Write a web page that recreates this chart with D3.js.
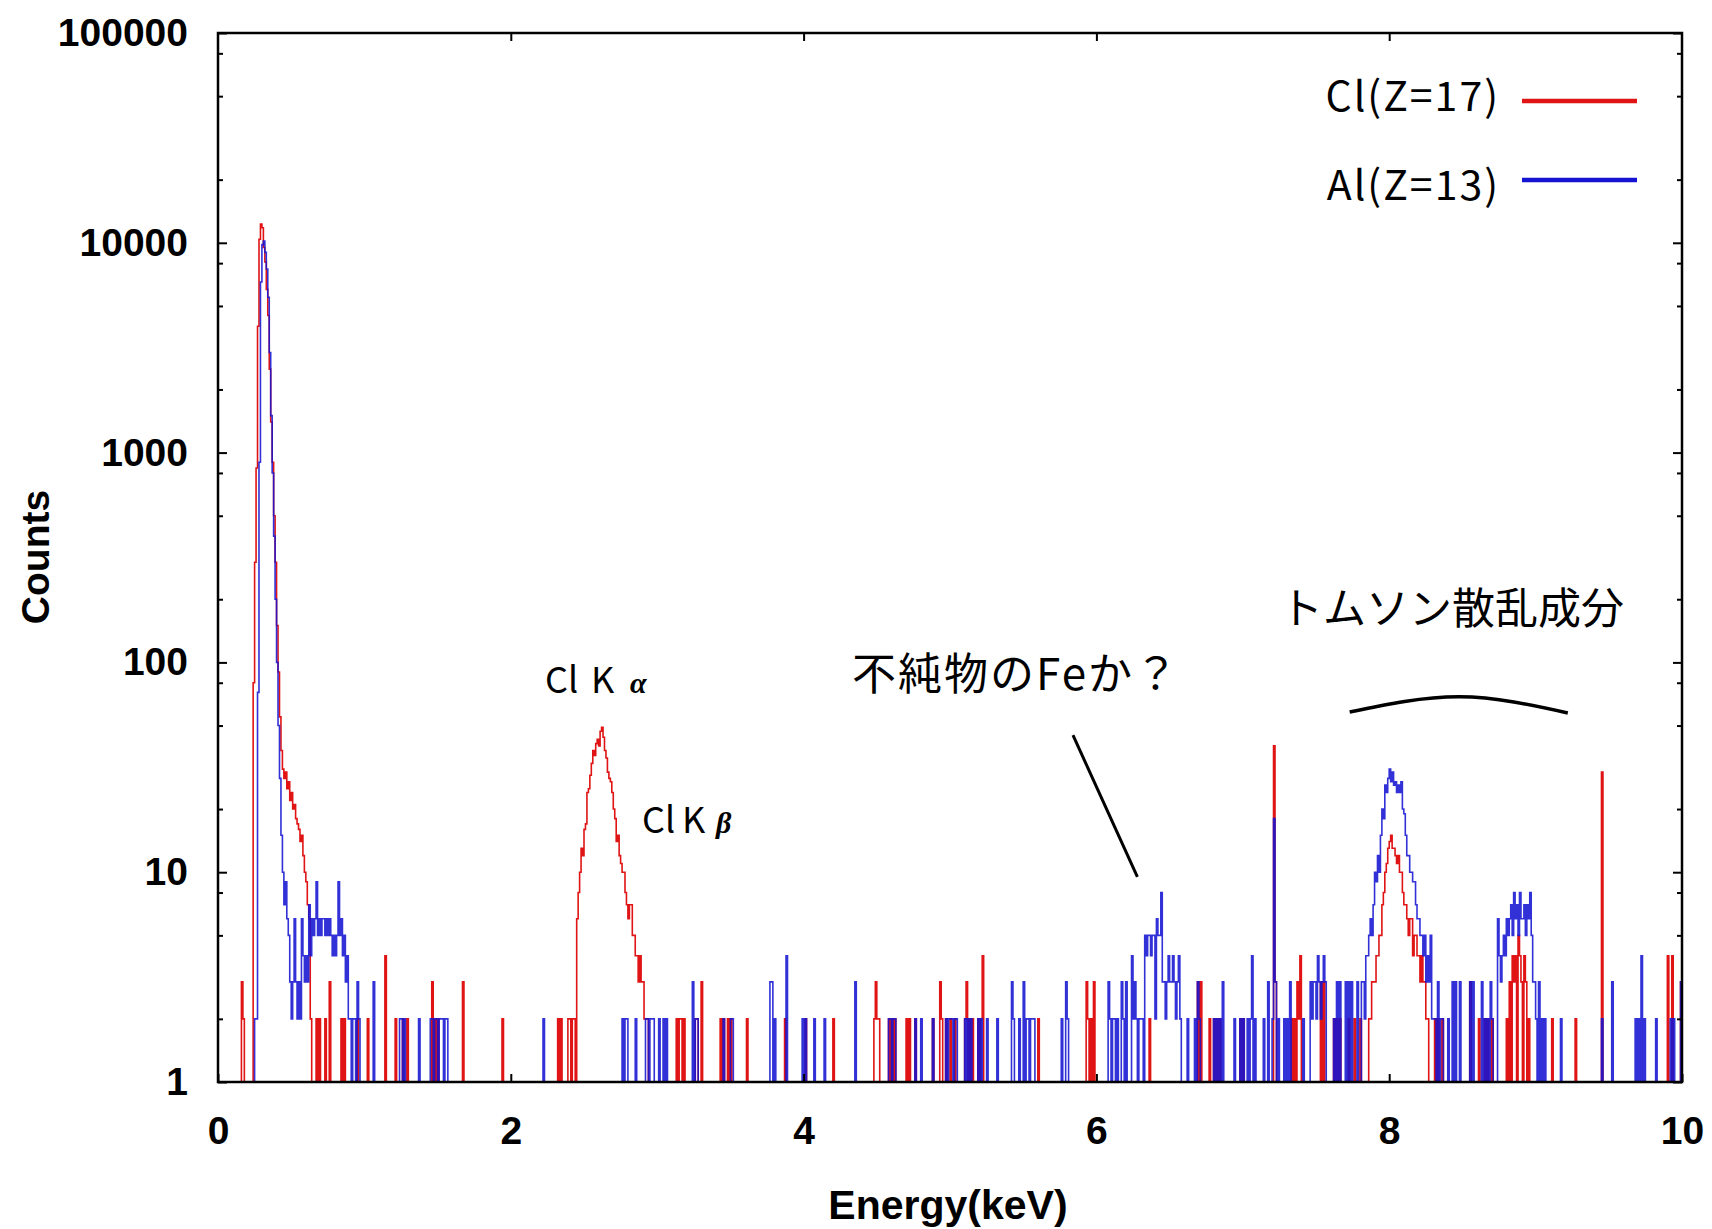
<!DOCTYPE html>
<html>
<head>
<meta charset="utf-8">
<script src="https://cdn.jsdelivr.net/npm/d3@7"></script>
<style>
body { margin: 0; background: #fff; }
.jp { font-family: "Noto Sans CJK JP", sans-serif; }
</style>
</head>
<body>
<svg id="chart" width="1712" height="1229"></svg>
<script>
// channel width of the spectra (keV)
var step = 0.01;

// Cl(Z=17): contiguous runs [start keV, counts...]
var clRuns = [
  [0.16, [3, 2]],
  [0.24, [80, 300, 845, 4000, 10400, 12300, 11800, 9500, 8100, 6000, 4500, 2500, 1400, 900, 500, 300, 150, 90, 55, 38,
          31, 28, 30, 25, 27, 22, 24, 20, 21, 18, 17, 16, 14, 15, 12, 10, 9, 7, 6, 2]],
  [2.39, [2, 2, 1, 2, 2, 1, 6, 8, 10, 13, 12, 16, 17, 24, 25, 29, 33, 38, 36, 41, 43, 40, 47, 49, 44, 38, 35, 30, 28, 27,
          24, 20, 18, 14, 15, 12, 11, 10, 10, 8, 7, 6, 7, 7, 5, 5, 4, 4, 3, 4, 3, 3, 2, 2, 2]],
  [3.13, [2, 1, 2, 2, 1, 2]],
  [7.86, [2, 2, 3, 3, 3, 4, 4, 5, 5, 7, 8, 10, 11, 13, 14, 15, 13, 13, 12, 11, 12, 10, 10, 8, 7, 7, 6, 5, 6, 6,
          4, 5, 5, 4, 4, 3, 4, 3, 3, 2, 2]],
  [8.80, [2, 1, 3, 1, 4, 3, 4, 1, 5, 4, 3, 1, 4, 3, 1, 2]]
];
// Cl(Z=17): single channels [keV, counts]
var clSpikes = [
  [0.67, 2], [0.69, 2], [0.73, 2], [0.76, 3], [0.84, 2], [0.86, 2], [0.95, 2], [1.02, 2], [1.14, 4], [1.21, 2],
  [1.26, 2], [1.29, 2], [1.46, 3], [1.48, 2], [1.50, 2], [1.67, 3], [1.94, 2], [2.32, 2], [2.34, 2],
  [3.26, 2], [3.27, 2], [3.30, 3], [3.43, 2], [3.45, 2], [3.48, 2], [3.50, 2], [3.61, 2], [3.87, 2], [4.01, 2],
  [4.20, 2], [4.48, 2], [4.49, 3], [4.50, 2], [4.51, 2], [4.58, 2], [4.60, 2], [4.62, 2], [4.70, 2], [4.72, 2],
  [4.76, 2], [4.88, 2], [4.93, 3], [4.94, 2], [4.97, 2], [5.00, 2], [5.03, 2], [5.10, 2], [5.11, 3], [5.13, 2],
  [5.15, 2], [5.19, 2], [5.21, 2], [5.22, 4], [5.60, 2], [5.93, 3], [5.94, 2], [5.96, 2], [5.98, 3], [6.36, 2],
  [6.69, 3], [6.71, 3], [6.77, 2], [6.80, 2], [6.82, 2], [6.84, 2], [6.98, 2], [7.00, 2], [7.21, 40], [7.22, 3],
  [7.33, 2], [7.35, 2], [7.37, 3], [7.38, 2], [7.39, 4], [7.53, 3], [7.55, 3], [7.62, 2], [7.64, 2], [7.66, 2],
  [7.72, 2], [7.76, 2], [7.80, 2], [8.31, 2], [8.33, 2], [8.36, 2], [8.55, 3], [8.61, 2], [8.65, 2], [8.67, 2],
  [8.70, 2], [9.11, 2], [9.27, 2], [9.45, 30], [9.90, 4], [9.93, 4], [9.99, 3]
];

// Al(Z=13): contiguous runs [start keV, counts...]
var alRuns = [
  [0.25, [2, 2, 72, 900, 6500, 9800, 10200, 9000, 7500, 5500, 3000, 1500, 800, 400, 200, 100, 50, 28, 15, 10,
          7, 9, 6, 5, 3, 2, 3, 6, 3, 2, 3, 2, 6, 4, 3, 4, 3, 7, 4, 6, 5, 6, 9, 5, 6, 5, 6, 6, 5, 6,
          5, 6, 5, 4, 5, 4, 5, 9, 5, 6, 4, 5, 3, 4, 2, 2, 1, 2, 2, 1, 3, 2]],
  [1.45, [2, 2, 1, 2, 2, 1, 2, 2, 2, 1, 2, 2]],
  [2.76, [2, 1, 2, 2]],
  [2.92, [2, 2, 1, 2, 2, 2]],
  [6.24, [4, 2, 3, 2, 1, 2, 2, 2, 1, 5, 4, 5, 5, 4, 5, 5, 2, 6, 5, 5, 8, 3, 3, 2, 3, 4, 3, 3, 4, 3,
          2, 3, 4, 2]],
  [7.46, [3, 2, 3, 3, 2, 4, 3, 2, 3, 4, 3]],
  [7.81, [3, 3, 2, 4, 4, 5, 6, 5, 7, 10, 9, 12, 10, 15, 20, 18, 26, 24, 28, 31, 27, 30, 26, 27, 24, 26, 24, 27, 20, 19,
          15, 12, 12, 10, 10, 9, 9, 7, 6, 6, 5, 5, 4, 5, 3, 4, 3, 5, 2, 2]],
  [8.74, [6, 4, 3, 4, 5, 4, 6, 5, 6, 7, 5, 8, 6, 7, 5, 8, 6, 6, 7, 5, 7, 6, 8, 5, 3, 3]]
];
// Al(Z=13): single channels [keV, counts]
var alSpikes = [
  [1.06, 3], [1.24, 2], [1.25, 2], [1.27, 2], [1.37, 2], [2.22, 2], [2.85, 2], [3.01, 2], [3.04, 2], [3.06, 2],
  [3.24, 3], [3.26, 2], [3.27, 2], [3.45, 2], [3.50, 2], [3.51, 2], [3.77, 3], [3.78, 3], [3.80, 2], [3.88, 4],
  [3.99, 2], [4.01, 2], [4.07, 2], [4.14, 2], [4.35, 3], [4.58, 2], [4.59, 2], [4.61, 2], [4.62, 2], [4.76, 2],
  [4.80, 2], [4.88, 2], [4.97, 2], [4.99, 2], [5.00, 2], [5.01, 2], [5.03, 2], [5.04, 2], [5.10, 2], [5.12, 2],
  [5.14, 2], [5.19, 2], [5.21, 2], [5.25, 2], [5.32, 2], [5.42, 3], [5.43, 2], [5.47, 2], [5.50, 3], [5.52, 2],
  [5.53, 2], [5.55, 2], [5.56, 2], [5.57, 2], [5.76, 2], [5.79, 3], [5.80, 2], [6.08, 3], [6.09, 2], [6.11, 2],
  [6.12, 2], [6.14, 2], [6.17, 3], [6.18, 2], [6.20, 3], [6.62, 2], [6.67, 2], [6.69, 3], [6.70, 2], [6.80, 2],
  [6.82, 2], [6.84, 2], [6.86, 3], [6.94, 2], [6.98, 2], [7.00, 2], [7.03, 2], [7.05, 2], [7.06, 4], [7.08, 2],
  [7.14, 2], [7.17, 3], [7.20, 2], [7.21, 18], [7.22, 3], [7.24, 2], [7.28, 2], [7.30, 2], [7.32, 3], [7.41, 2],
  [7.62, 2], [7.64, 3], [7.66, 3], [7.70, 3], [7.72, 3], [7.74, 3], [7.78, 3], [8.31, 2], [8.33, 3], [8.35, 2],
  [8.36, 2], [8.40, 2], [8.43, 3], [8.45, 3], [8.48, 3], [8.55, 3], [8.57, 3], [8.63, 3], [8.65, 2], [8.67, 2],
  [8.69, 3], [8.70, 2], [9.00, 2], [9.02, 3], [9.04, 2], [9.06, 2], [9.17, 2], [9.45, 2], [9.52, 3], [9.68, 2],
  [9.70, 2], [9.72, 4], [9.74, 2], [9.82, 2], [9.92, 2], [9.94, 2], [9.99, 3]
];

var seriesNames = ["Cl(Z=17)", "Al(Z=13)"];
var seriesColors = ["#e01414", "#1414d2"];
var xTicks = [0, 2, 4, 6, 8, 10];
var yTicks = [1, 10, 100, 1000, 10000, 100000];
var yMinorTicks = [2, 5, 8, 20, 50, 80, 200, 500, 800, 2000, 5000, 8000, 20000, 50000, 80000];

// annotation anchors in data units [keV, counts]
var fePointer = [[5.84, 45], [6.28, 9.5]];
var thomsonArc = [[7.73, 58], [8.48, 68.5], [9.22, 57.4]];

var svg = d3.select("#chart");

var x = d3.scaleLinear().domain([0, 10]).range([218, 1682]);
var y = d3.scaleLog().domain([1, 100000]).range([1082, 33]);

function toChannels(runs, spikes) {
  var n = Math.round(10 / step);
  var c = new Array(n).fill(1);
  runs.forEach(function (r) {
    var i0 = Math.round(r[0] / step);
    r[1].forEach(function (v, i) { c[i0 + i] = v; });
  });
  spikes.forEach(function (s) {
    var i = Math.round(s[0] / step);
    c[i] = Math.max(c[i], s[1]);
  });
  var pts = c.map(function (v, i) { return {e: i * step, c: v}; });
  pts.push({e: 10, c: 1});
  return pts;
}

var series = [toChannels(clRuns, clSpikes), toChannels(alRuns, alSpikes)];

var line = d3.line()
    .x(d => x(d.e))
    .y(d => y(Math.max(1, d.c)))
    .curve(d3.curveStepAfter);

svg.append("defs").append("clipPath").attr("id", "plot")
  .append("rect").attr("x", 218).attr("y", 33).attr("width", 1464).attr("height", 1049);

var plot = svg.append("g").attr("clip-path", "url(#plot)");
series.forEach(function (s, i) {
  plot.append("path")
      .attr("d", line(s))
      .attr("fill", "none")
      .attr("stroke", seriesColors[i])
      .attr("stroke-opacity", i == 1 ? 0.88 : 1)
      .attr("stroke-width", 1.6);
});

// axes
function styleAxis(g) {
  g.select(".domain").remove();
  g.selectAll(".tick line").attr("stroke", "#000").attr("stroke-width", 2);
  g.selectAll(".tick text").attr("fill", "#000");
  g.attr("font-family", "'Liberation Sans', Arial, sans-serif")
   .attr("font-weight", "bold").attr("font-size", 39);
}

svg.append("g").attr("transform", "translate(0,1082)")
  .call(d3.axisBottom(x).tickValues(xTicks).tickSize(-8).tickPadding(34).tickFormat(d3.format("d")))
  .call(styleAxis);
svg.append("g").attr("transform", "translate(0,33)")
  .call(d3.axisTop(x).tickValues(xTicks.slice(1, -1)).tickSize(-8).tickFormat(""))
  .call(styleAxis);
svg.append("g").attr("transform", "translate(218,0)")
  .call(d3.axisLeft(y).tickValues(yTicks).tickSize(-9).tickPadding(30).tickFormat(d3.format("d")))
  .call(styleAxis);
svg.append("g").attr("transform", "translate(218,0)")
  .call(d3.axisLeft(y).tickValues(yMinorTicks).tickSize(-5).tickFormat(""))
  .call(styleAxis);
svg.append("g").attr("transform", "translate(1682,0)")
  .call(d3.axisRight(y).tickValues(yTicks).tickSize(-9).tickFormat(""))
  .call(styleAxis);
svg.append("g").attr("transform", "translate(1682,0)")
  .call(d3.axisRight(y).tickValues(yMinorTicks).tickSize(-5).tickFormat(""))
  .call(styleAxis);

svg.append("rect")
    .attr("x", 218).attr("y", 33).attr("width", 1464).attr("height", 1049)
    .attr("fill", "none").attr("stroke", "#000").attr("stroke-width", 2.5);

// axis titles
svg.append("text")
    .attr("transform", "translate(49,557) rotate(-90)")
    .attr("text-anchor", "middle")
    .attr("font-family", "'Liberation Sans', Arial, sans-serif")
    .attr("font-weight", "bold").attr("font-size", 39)
    .text("Counts");
svg.append("text")
    .attr("x", 948).attr("y", 1219)
    .attr("text-anchor", "middle")
    .attr("font-family", "'Liberation Sans', Arial, sans-serif")
    .attr("font-weight", "bold").attr("font-size", 41)
    .text("Energy(keV)");

// legend
var legendY = [101, 180];
var legendTextY = [111, 200];
seriesNames.forEach(function (name, i) {
  svg.append("text").attr("class", "jp")
      .attr("x", 1500).attr("y", legendTextY[i])
      .attr("text-anchor", "end")
      .attr("font-size", 41)
      .attr("letter-spacing", 2)
      .text(name);
  svg.append("line")
      .attr("x1", 1522).attr("x2", 1637)
      .attr("y1", legendY[i]).attr("y2", legendY[i])
      .attr("stroke", seriesColors[i]).attr("stroke-width", 4.5);
});

// peak labels
function peakLabel(xc, xk, xg, yb, greek) {
  var t = svg.append("text").attr("class", "jp").attr("y", yb).attr("font-size", 36);
  t.append("tspan").attr("x", xc).text("Cl");
  t.append("tspan").attr("x", xk).text("K");
  t.append("tspan").attr("x", xg)
      .attr("font-family", "'Liberation Serif', serif")
      .attr("font-style", "italic").attr("font-weight", "bold")
      .attr("font-size", 30).text(greek);
}
peakLabel(545, 591, 630, 693, "α");
peakLabel(642, 682, 716, 833, "β");

svg.append("text").attr("class", "jp")
    .attr("x", 852).attr("y", 690)
    .attr("font-size", 44)
    .attr("letter-spacing", 2)
    .text("不純物のFeか？");
svg.append("text").attr("class", "jp")
    .attr("x", 1452).attr("y", 624)
    .attr("text-anchor", "middle")
    .attr("font-size", 43)
    .text("トムソン散乱成分");

var annoLine = d3.line().x(d => x(d[0])).y(d => y(d[1]));
svg.append("path")
    .attr("d", annoLine(fePointer))
    .attr("fill", "none").attr("stroke", "#000").attr("stroke-width", 3);
svg.append("path")
    .attr("d", annoLine.curve(d3.curveNatural)(thomsonArc))
    .attr("fill", "none").attr("stroke", "#000").attr("stroke-width", 3.5);
</script>
</body>
</html>
